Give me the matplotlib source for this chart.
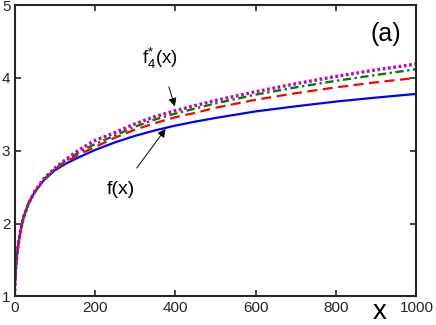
import numpy as np
import matplotlib
matplotlib.use('Agg')
import matplotlib.pyplot as plt

plt.rcParams['font.family'] = ['Liberation Sans', 'DejaVu Sans']
plt.rcParams['mathtext.fontset'] = 'custom'
plt.rcParams['mathtext.rm'] = 'Liberation Sans'
plt.rcParams['mathtext.it'] = 'Liberation Sans'

# values
x_pts = [0, 1, 3, 5, 10, 15, 22, 35, 50, 72, 100, 130, 160, 200, 250, 300, 350,
         400, 450, 500, 600, 700, 800, 900, 1000]
f_exact = [1.0, 1.15, 1.37, 1.52, 1.74, 1.90, 2.08, 2.28, 2.43, 2.59, 2.73, 2.83, 2.91,
           3.01, 3.115, 3.205, 3.28, 3.345, 3.40, 3.45, 3.54, 3.61, 3.675, 3.73, 3.78]
f_red = [1.0, 1.15, 1.37, 1.52, 1.74, 1.90, 2.08, 2.28, 2.43, 2.59, 2.74, 2.85, 2.95,
         3.05, 3.18, 3.29, 3.38, 3.46, 3.52, 3.59, 3.70, 3.79, 3.87, 3.94, 4.00]
f_green = [1.0, 1.15, 1.37, 1.52, 1.74, 1.90, 2.08, 2.28, 2.43, 2.60, 2.75, 2.87, 2.98,
           3.09, 3.21, 3.33, 3.43, 3.51, 3.58, 3.65, 3.77, 3.87, 3.96, 4.04, 4.12]
f4_star = [1.0, 1.15, 1.37, 1.52, 1.74, 1.90, 2.08, 2.28, 2.44, 2.61, 2.76, 2.89, 3.01,
           3.14, 3.25, 3.37, 3.47, 3.55, 3.62, 3.69, 3.81, 3.92, 4.02, 4.11, 4.19]

AX_COLOR = '#262626'

fig = plt.figure(figsize=(4.36, 3.25), dpi=100)
ax = fig.add_axes([0.0333, 0.0877, 0.9217, 0.8969])

ax.plot(x_pts, f_exact, color='#0000ff', linewidth=1.6)
ax.plot(x_pts, f_red, color='#ff0000', linewidth=1.6, linestyle=(0, (4.5, 2.5)))
ax.plot(x_pts, f_green, color='#008000', linewidth=1.7, linestyle=(0, (3.5, 1.5, 1, 1.5)))
ax.plot(x_pts, f4_star, color='#c000c0', linewidth=2.4, linestyle=(0, (0.8, 0.8)))

ax.set_xlim(0, 1000)
ax.set_ylim(1, 5)
ax.set_xticks([0, 200, 400, 600, 800, 1000])
ax.set_yticks([1, 2, 3, 4, 5])

for s in ax.spines.values():
    s.set_linewidth(1.5)
    s.set_color(AX_COLOR)
ax.tick_params(direction='in', length=4, width=1.2, color=AX_COLOR,
               top=True, right=True, labelsize=11, labelcolor=AX_COLOR, pad=3)

ax.annotate(r'f$^{*}_{4}$(x)', xy=(399, 3.61), xytext=(362, 4.27),
            fontsize=13.5, ha='center', va='center', color='black',
            arrowprops=dict(arrowstyle='-|>', color='black', lw=0.7,
                            mutation_scale=12, shrinkA=10, shrinkB=0))
ax.annotate('f(x)', xy=(376, 3.30), xytext=(265, 2.47),
            fontsize=14, ha='center', va='center', color='black',
            arrowprops=dict(arrowstyle='-|>', color='black', lw=0.7,
                            mutation_scale=12, shrinkA=9, shrinkB=0))

ax.text(923, 4.6, '(a)', fontsize=18, ha='center', va='center', color='black')
fig.text(380 / 436, 0.0, 'x', fontsize=20, ha='center', va='bottom', color='black')

fig.savefig('out.png', dpi=100)
